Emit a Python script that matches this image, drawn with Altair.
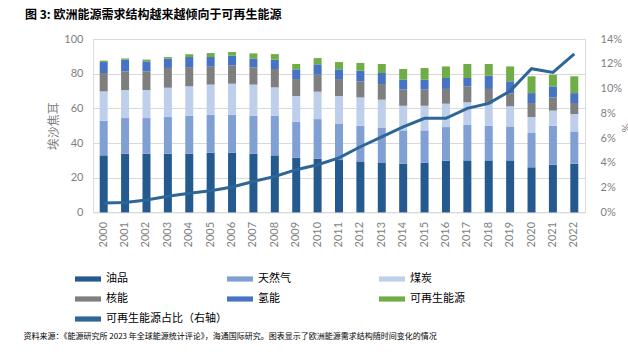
import altair as alt
import pandas as pd

years = [str(y) for y in range(2000, 2023)]
oil = [32.9, 33.8, 33.8, 33.8, 33.8, 34.4, 34.4, 33.8, 32.9, 31.5, 31.0, 30.2, 29.4, 28.8, 28.1, 28.7, 29.8, 30.0, 30.0, 30.0, 26.0, 27.5, 28.1]
gas = [20.0, 20.6, 20.6, 21.2, 22.0, 21.9, 21.9, 22.0, 22.9, 20.8, 22.8, 21.1, 20.6, 19.9, 19.2, 18.6, 19.4, 20.6, 20.0, 19.6, 19.8, 22.5, 18.6]
coal = [16.9, 16.2, 16.2, 16.9, 16.9, 17.4, 17.9, 17.9, 16.3, 14.8, 15.8, 15.8, 16.3, 16.3, 14.2, 14.2, 13.5, 12.9, 12.7, 11.6, 9.2, 8.7, 10.0]
nuclear = [10.6, 10.7, 10.7, 11.4, 11.1, 10.3, 10.6, 9.8, 10.6, 9.8, 9.8, 9.8, 9.3, 9.0, 9.3, 9.3, 8.5, 9.2, 8.5, 7.3, 8.1, 7.6, 6.4]
hydro = [6.3, 6.8, 5.8, 5.4, 5.8, 5.6, 5.6, 5.3, 5.4, 5.6, 6.0, 5.6, 6.1, 6.4, 5.7, 5.7, 6.3, 4.8, 7.6, 7.1, 5.7, 6.4, 5.7]
renew = [0.8, 0.7, 1.0, 0.9, 1.6, 2.3, 2.1, 2.9, 3.2, 3.1, 3.6, 4.2, 4.5, 5.2, 6.2, 6.8, 6.7, 8.1, 6.8, 8.6, 9.7, 6.7, 9.7]
share_pct = [0.75, 0.8, 1.0, 1.3, 1.55, 1.75, 2.05, 2.5, 2.9, 3.45, 3.85, 4.4, 5.3, 6.1, 6.9, 7.6, 7.6, 8.4, 8.8, 9.8, 11.6, 11.3, 12.8]

series_names = ["油品", "天然气", "煤炭", "核能", "氢能", "可再生能源"]
line_name = "可再生能源占比（右轴）"
series_values = [oil, gas, coal, nuclear, hydro, renew]
colors = ["#255A8F", "#809FD3", "#BDCFEB", "#7F7F7F", "#4673C4", "#70AD47", "#2E6698"]

title_text = "图 3:  欧洲能源需求结构越来越倾向于可再生能源"
source_text = "资料来源：《能源研究所 2023 年全球能源统计评论》，海通国际研究。图表显示了欧洲能源需求结构随时间变化的情况"

rows = []
for i, (name, vals) in enumerate(zip(series_names, series_values)):
    for y, v in zip(years, vals):
        rows.append({"year": y, "series": name, "value": v, "order": i})
bars_df = pd.DataFrame(rows)
line_df = pd.DataFrame({"year": years, "share": [p / 100 for p in share_pct], "series": line_name})

W, H = 492, 173.4
CJK = "Noto Sans CJK SC"
NUM = "Lato"

color_scale = alt.Scale(domain=series_names + [line_name], range=colors)

x_enc = alt.X(
    "year:N",
    sort=years,
    scale=alt.Scale(paddingInner=0.3, paddingOuter=0.15),
    axis=alt.Axis(
        title=source_text, titleFont=CJK, titleFontSize=8, titleFontWeight="normal",
        titleColor="#000000", titleX=-70, titleY=124, titleAlign="left",
        titleBaseline="middle", titleAnchor="start",
        labelAngle=-90, labelFont=NUM, labelFontSize=11, labelColor="#7F7F7F",
        labelPadding=9, ticks=False, domain=False, grid=False,
    ),
)

bars = alt.Chart(bars_df).mark_bar(size=8).encode(
    x=x_enc,
    y=alt.Y(
        "value:Q",
        stack="zero",
        scale=alt.Scale(domain=[0, 100], nice=False),
        axis=alt.Axis(
            values=[0, 20, 40, 60, 80, 100], title="埃沙焦耳", titleFont=CJK,
            titleFontSize=12, titleFontWeight="normal", titleColor="#7F7F7F",
            titleX=-40, titleY=H / 2, titleAngle=-90, titleAlign="center", titleBaseline="middle",
            labelFont=NUM, labelFontSize=11, labelColor="#7F7F7F", labelPadding=10,
            ticks=False, domain=False, grid=True, gridColor="#D9D9D9", gridWidth=1,
        ),
    ),
    color=alt.Color(
        "series:N",
        scale=color_scale,
        legend=alt.Legend(
            title=None, orient="none", legendX=-18, legendY=227, columns=3,
            direction="horizontal", gridAlign="all", columnPadding=0, rowPadding=2,
            symbolType="M-1,-0.2H1V0.2H-1Z", symbolSize=676, symbolStrokeWidth=0,
            labelFont=CJK, labelFontSize=11, labelColor="#000000", labelOffset=5,
            labelLimit=300,
        ),
    ),
    order=alt.Order("order:Q", sort="ascending"),
)

line = alt.Chart(line_df).mark_line(strokeWidth=3).encode(
    x=x_enc,
    y=alt.Y(
        "share:Q",
        scale=alt.Scale(domain=[0, 0.14], nice=False),
        axis=alt.Axis(
            orient="right", values=[0, 0.02, 0.04, 0.06, 0.08, 0.10, 0.12, 0.14], format=".0%",
            title="%", titleFont=NUM, titleFontSize=11, titleFontWeight="normal",
            titleColor="#7F7F7F", titleAngle=90, titleX=39, titleY=H / 2 + 2,
            titleAlign="center", titleBaseline="middle",
            labelFont=NUM, labelFontSize=11, labelColor="#7F7F7F", labelPadding=15,
            ticks=False, domain=False, grid=False,
        ),
    ),
    color=alt.Color("series:N", scale=color_scale),
)

chart = (
    alt.layer(bars, line)
    .resolve_scale(y="independent")
    .properties(
        width=W,
        height=H,
        autosize=alt.AutoSizeParams(type="none"),
        padding={"left": 93, "top": 39, "right": 43, "bottom": 356 - 39 - H},
        title=alt.TitleParams(
            text=title_text, anchor="start", frame="group", dx=-68, offset=11,
            font=CJK, fontSize=12, fontWeight="bold", color="#000000",
        ),
    )
    .configure_view(stroke=None)
    .configure(background="#FFFFFF")
)

chart.save("out.html", embed_options={"renderer": "svg", "actions": False})
